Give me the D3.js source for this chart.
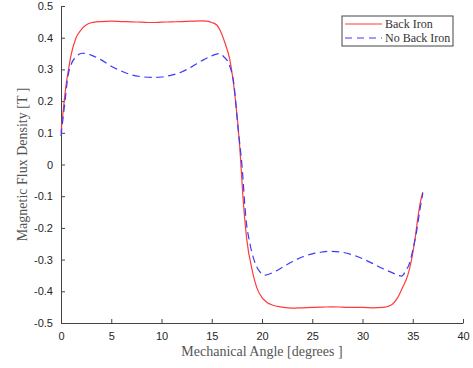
<!DOCTYPE html>
<html>
  <head>
    <meta charset="utf-8">
    <title>Magnetic Flux Density</title>
    <script src="https://d3js.org/d3.v7.min.js"></script>
    <style>
      body { margin: 0; background: #fff; }
      .tick text { font-family: "Liberation Sans", Arial, sans-serif; font-size: 11px; fill: #262626; }
      .lbl { font-family: "Liberation Serif", "DejaVu Serif", serif; font-size: 14px; fill: #555; }
      .leg { font-family: "Liberation Serif", "DejaVu Serif", serif; font-size: 12px; fill: #333; }
    </style>
  </head>
  <body>
    <svg width="473" height="368"></svg>
    <script>
      const backIronAngle = [0, 0.25, 0.5, 0.75, 1, 1.5, 2, 2.5, 3, 3.5, 4, 5, 6, 7, 8, 9, 10, 11, 12, 13, 14, 14.5, 15, 15.5, 15.8, 16.3, 16.8, 17.3, 17.8, 18.1, 18.5, 19, 19.5, 20, 20.5, 21, 22, 23, 24, 25, 26, 27, 28, 29, 30, 31, 32, 32.5, 33, 33.5, 34, 34.5, 35, 35.25, 35.5, 35.75, 36];
      const backIron = [0.10, 0.18, 0.25, 0.30, 0.345, 0.40, 0.425, 0.44, 0.447, 0.45, 0.451, 0.452, 0.451, 0.450, 0.449, 0.448, 0.449, 0.450, 0.451, 0.452, 0.453, 0.452, 0.448, 0.44, 0.425, 0.385, 0.33, 0.22, 0.05, -0.10, -0.24, -0.33, -0.39, -0.42, -0.435, -0.443, -0.45, -0.453, -0.452, -0.451, -0.450, -0.449, -0.450, -0.451, -0.451, -0.452, -0.451, -0.448, -0.44, -0.42, -0.387, -0.35, -0.28, -0.23, -0.17, -0.12, -0.087];

      const noBackIronAngle = [0, 0.4, 0.7, 1, 1.5, 2.1, 3, 4, 5, 6, 7, 8, 9, 9.5, 10, 11, 12, 13, 14, 15, 15.7, 16.2, 16.8, 17.2, 17.6, 18, 18.4, 18.8, 19.2, 19.7, 20.3, 21, 22, 23, 24, 25, 26, 26.7, 28, 29, 30, 31, 32, 33, 33.9, 34.3, 34.7, 35, 35.36, 35.7, 36];
      const noBackIron = [0.09, 0.2, 0.28, 0.315, 0.34, 0.351, 0.345, 0.33, 0.31, 0.295, 0.283, 0.277, 0.275, 0.275, 0.276, 0.282, 0.292, 0.308, 0.327, 0.343, 0.35, 0.34, 0.31, 0.255, 0.12, 0.0, -0.17, -0.25, -0.3, -0.335, -0.349, -0.342, -0.325, -0.307, -0.292, -0.282, -0.276, -0.274, -0.277, -0.285, -0.297, -0.312, -0.328, -0.342, -0.352, -0.335, -0.31, -0.27, -0.215, -0.145, -0.09];

      const xTicks = [0, 5, 10, 15, 20, 25, 30, 35, 40];
      const yTicks = [-0.5, -0.4, -0.3, -0.2, -0.1, 0, 0.1, 0.2, 0.3, 0.4, 0.5];
      const seriesNames = ["Back Iron", "No Back Iron"];

      const svg = d3.select("svg");
      const mLeft = 61, mRight = 463, mTop = 6, mBottom = 323;

      const x = d3.scaleLinear().domain([0, 40]).range([mLeft, mRight]);
      const y = d3.scaleLinear().domain([-0.5, 0.5]).range([mBottom, mTop]);

      const axisColor = "#444";

      const gx = svg.append("g")
        .attr("transform", `translate(0,${mBottom})`)
        .call(d3.axisBottom(x).tickValues(xTicks).tickSizeInner(-4).tickSizeOuter(0).tickPadding(9).tickFormat(d3.format("d")));
      const gy = svg.append("g")
        .attr("transform", `translate(${mLeft},0)`)
        .call(d3.axisLeft(y).tickValues(yTicks).tickSizeInner(-4).tickSizeOuter(0).tickPadding(8)
          .tickFormat(d => d === 0 ? "0" : d.toFixed(1)));
      [gx, gy].forEach(g => {
        g.select(".domain").attr("stroke", axisColor);
        g.selectAll(".tick line").attr("stroke", axisColor);
      });

      const line = d3.line().curve(d3.curveMonotoneX).x(d => x(d[0])).y(d => y(d[1]));

      svg.append("path")
        .datum(d3.zip(backIronAngle, backIron))
        .attr("fill", "none")
        .attr("stroke", "#ff3a3a")
        .attr("stroke-width", 1.2)
        .attr("d", line);

      svg.append("path")
        .datum(d3.zip(noBackIronAngle, noBackIron))
        .attr("fill", "none")
        .attr("stroke", "#3a3aff")
        .attr("stroke-width", 1.2)
        .attr("stroke-dasharray", "7.5,4.5")
        .attr("d", line);

      svg.append("text").attr("class", "lbl")
        .attr("x", 262).attr("y", 356)
        .attr("text-anchor", "middle")
        .text("Mechanical Angle [degrees ]");
      svg.append("text").attr("class", "lbl")
        .attr("transform", `translate(27,${(mTop + mBottom) / 2}) rotate(-90)`)
        .attr("text-anchor", "middle")
        .text("Magnetic Flux Density [T ]");

      // legend
      const leg = svg.append("g").attr("transform", "translate(342,16)");
      leg.append("rect").attr("width", 111).attr("height", 30)
        .attr("fill", "#fff").attr("stroke", "#444").attr("stroke-width", 1);
      const styles = [{ c: "#ff3a3a", dash: null }, { c: "#3a3aff", dash: "7,5" }];
      seriesNames.forEach((name, i) => {
        const yy = 8 + i * 14;
        leg.append("line").attr("x1", 3).attr("x2", 40).attr("y1", yy).attr("y2", yy)
          .attr("stroke", styles[i].c).attr("stroke-width", 1.2)
          .attr("stroke-dasharray", styles[i].dash);
        leg.append("text").attr("class", "leg")
          .attr("x", 43).attr("y", yy + 4).text(name);
      });
    </script>
  </body>
</html>
